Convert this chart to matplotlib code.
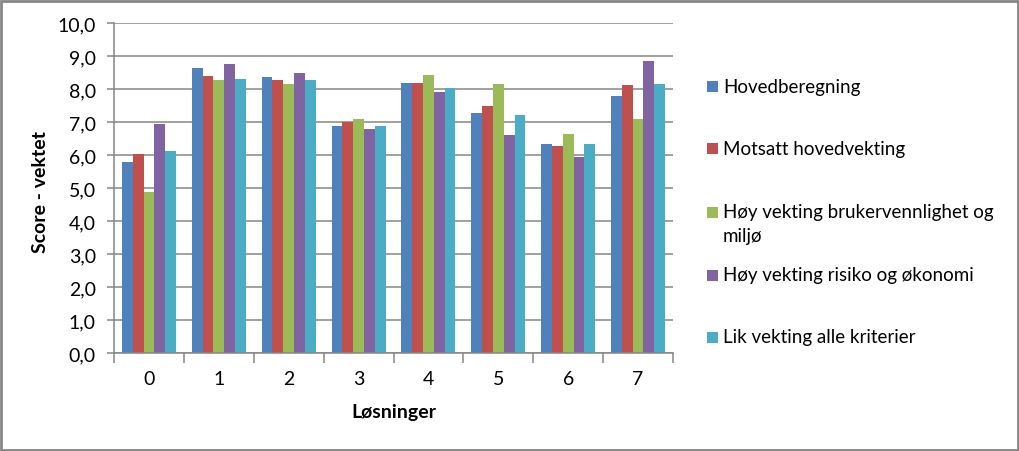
import matplotlib
matplotlib.use("Agg")
import matplotlib.pyplot as plt
from matplotlib.patches import Rectangle
from matplotlib.ticker import FixedLocator, FuncFormatter, MultipleLocator
import numpy as np

plt.rcParams["font.family"] = ["Lato", "DejaVu Sans"]

# --- data -----------------------------------------------------------------
categories = ["0", "1", "2", "3", "4", "5", "6", "7"]
series_names = [
    "Hovedberegning",
    "Motsatt hovedvekting",
    "Høy vekting brukervennlighet og\nmiljø",
    "Høy vekting risiko og økonomi",
    "Lik vekting alle kriterier",
]
hovedberegning = [5.80, 8.65, 8.37, 6.89, 8.19, 7.28, 6.34, 7.80]
motsatt = [6.04, 8.40, 8.28, 7.01, 8.19, 7.49, 6.28, 8.13]
bruker_miljo = [4.89, 8.28, 8.16, 7.10, 8.43, 8.16, 6.65, 7.10]
risiko_okonomi = [6.95, 8.77, 8.49, 6.80, 7.92, 6.62, 5.95, 8.86]
lik_vekting = [6.13, 8.31, 8.28, 6.89, 8.04, 7.22, 6.34, 8.16]
series_values = [hovedberegning, motsatt, bruker_miljo, risiko_okonomi, lik_vekting]

colors = ["#4F81BD", "#C0504D", "#9BBB59", "#8064A2", "#4BACC6"]
GRID = "#868686"

# --- figure ---------------------------------------------------------------
W, H = 1020, 452
fig = plt.figure(figsize=(W / 100, H / 100), dpi=100)
ax = fig.add_axes([114 / W, 1 - 354 / H, (673 - 114) / W, (354 - 24.3) / H])

x = np.arange(len(categories))
bw = 0.1546
for i, (vals, col) in enumerate(zip(series_values, colors)):
    ax.bar(x + (i - 2) * bw, vals, width=bw, color=col, linewidth=0, zorder=2)

ax.set_xlim(-0.5, len(categories) - 0.5)
ax.set_ylim(0, 10)
ax.yaxis.set_major_locator(MultipleLocator(1))
ax.yaxis.set_major_formatter(FuncFormatter(lambda v, _: f"{v:.1f}".replace(".", ",")))
ax.grid(axis="y", color=GRID, linewidth=1.1, zorder=0)
ax.set_axisbelow(True)

ax.set_xticks(x)
ax.set_xticklabels(categories)
ax.tick_params(axis="x", which="major", length=0, pad=12, labelsize=14)
ax.xaxis.set_minor_locator(FixedLocator(np.arange(-0.5, len(categories), 1.0)))
ax.tick_params(axis="x", which="minor", length=7, width=1.1, color=GRID, direction="out")
ax.tick_params(axis="y", length=5, width=1.1, color=GRID, direction="out",
               pad=8, labelsize=14)

for side in ("top", "right"):
    ax.spines[side].set_visible(False)
for side in ("left", "bottom"):
    ax.spines[side].set_color(GRID)
    ax.spines[side].set_linewidth(1.1)

fig.text(394 / W, 1 - 413 / H, "Løsninger", ha="center", va="center",
         fontsize=14, fontweight="bold")
fig.text(41 / W, 1 - 192 / H, "Score - vektet", ha="center", va="center",
         rotation=90, fontsize=14, fontweight="bold")

# legend, laid out like the Excel original
leg_y = [87, 149, 213, 276, 338]
for name, col, yy in zip(series_names, colors, leg_y):
    fig.patches.append(Rectangle((707 / W, 1 - (yy + 5.5) / H), 11 / W, 11 / H,
                                 transform=fig.transFigure, facecolor=col,
                                 edgecolor="none"))
    for k, line in enumerate(name.split("\n")):
        fig.text(723 / W, 1 - (yy + 24 * k) / H, line, ha="left",
                 va="center", fontsize=13.5)

# chart-area border
fig.patches.append(Rectangle((1 / W, 1 / H), (W - 2.5) / W, (H - 2.5) / H,
                             transform=fig.transFigure, fill=False,
                             edgecolor=GRID, linewidth=2))

fig.savefig("out.png", dpi=100)
